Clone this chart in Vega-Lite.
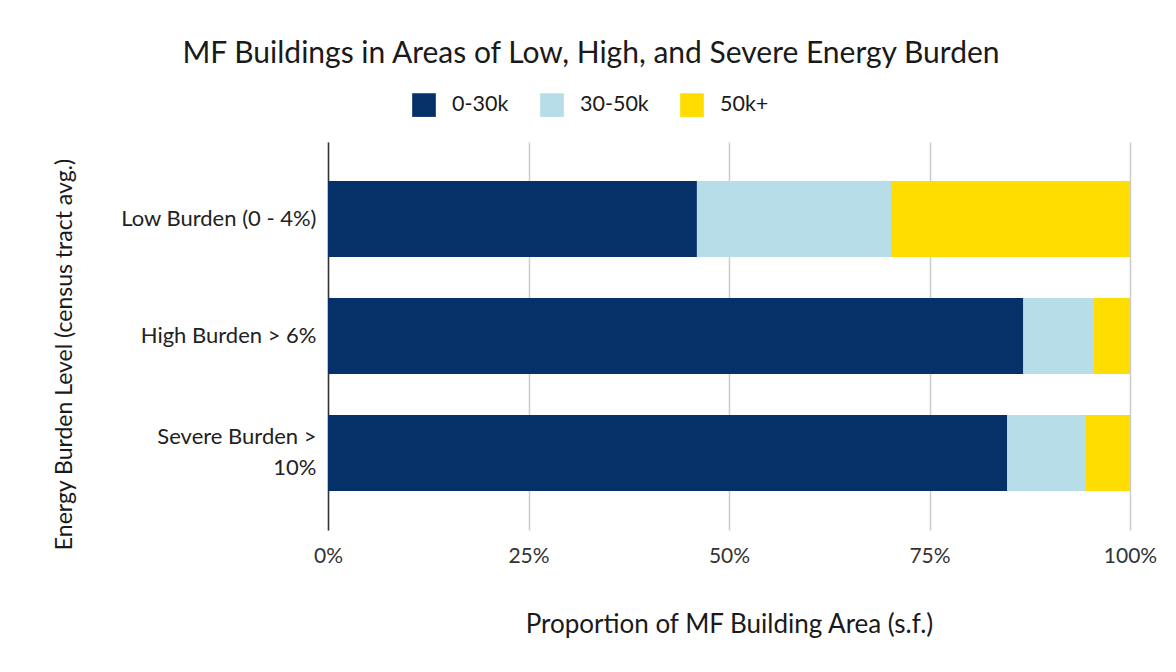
{
  "$schema": "https://vega.github.io/schema/vega-lite/v6.json",
  "width": 802,
  "height": 388,
  "autosize": {"type": "none"},
  "padding": {"left": 328, "top": 142, "right": 46, "bottom": 142},
  "background": "white",
  "title": {
    "text": "MF Buildings in Areas of Low, High, and Severe Energy Burden",
    "font": "Lato",
    "fontSize": 30,
    "fontWeight": "normal",
    "color": "#1a1a1a",
    "anchor": "middle",
    "dx": -138,
    "offset": 24
  },
  "data": {
    "values": [
      {"level": "Low Burden (0 - 4%)", "income": "0-30k", "share": 0.46},
      {"level": "Low Burden (0 - 4%)", "income": "30-50k", "share": 0.242},
      {"level": "Low Burden (0 - 4%)", "income": "50k+", "share": 0.298},
      {"level": "High Burden > 6%", "income": "0-30k", "share": 0.867},
      {"level": "High Burden > 6%", "income": "30-50k", "share": 0.087},
      {"level": "High Burden > 6%", "income": "50k+", "share": 0.046},
      {"level": "Severe Burden > 10%", "income": "0-30k", "share": 0.847},
      {"level": "Severe Burden > 10%", "income": "30-50k", "share": 0.097},
      {"level": "Severe Burden > 10%", "income": "50k+", "share": 0.056}
    ]
  },
  "mark": {"type": "bar"},
  "encoding": {
    "y": {
      "field": "level",
      "type": "nominal",
      "sort": ["Low Burden (0 - 4%)", "High Burden > 6%", "Severe Burden > 10%"],
      "scale": {"paddingInner": 0.35, "paddingOuter": 0.333},
      "axis": {
        "title": "Energy Burden Level (census tract avg.)",
        "titleFont": "Lato",
        "titleFontSize": 23,
        "titleFontWeight": "normal",
        "titleColor": "#1a1a1a",
        "titlePadding": 52,
        "titleY": 212,
        "labelFont": "Lato",
        "labelFontSize": 22,
        "labelColor": "#222",
        "labelPadding": 12,
        "labelLimit": 400,
        "labelExpr": "datum.value == 'Severe Burden > 10%' ? ['Severe Burden >', '10%'] : datum.value",
        "labelLineHeight": 31,
        "labelOffset": {"condition": {"test": "datum.value == 'Severe Burden > 10%'", "value": -16}, "value": 0},
        "ticks": false,
        "domain": true,
        "domainColor": "#333",
        "domainWidth": 1.5
      }
    },
    "x": {
      "field": "share",
      "type": "quantitative",
      "stack": "zero",
      "scale": {"domain": [0, 1], "nice": false},
      "axis": {
        "title": "Proportion of MF Building Area (s.f.)",
        "titleFont": "Lato",
        "titleFontSize": 26,
        "titleFontWeight": "normal",
        "titleColor": "#1a1a1a",
        "titlePadding": 45,
        "format": ".0%",
        "values": [0, 0.25, 0.5, 0.75, 1],
        "labelFont": "Lato",
        "labelFontSize": 21,
        "labelColor": "#333",
        "labelPadding": 15,
        "labelFlush": false,
        "ticks": false,
        "domain": false,
        "grid": true,
        "gridColor": "#cccccc",
        "gridWidth": 1.5
      }
    },
    "color": {
      "field": "income",
      "type": "nominal",
      "scale": {"domain": ["0-30k", "30-50k", "50k+"], "range": ["#053168", "#b7dde8", "#ffdd00"]},
      "legend": {
        "title": null,
        "orient": "none",
        "direction": "horizontal",
        "legendX": 84,
        "legendY": -49,
        "symbolType": "square",
        "symbolSize": 560,
        "symbolStrokeWidth": 0,
        "labelFont": "Lato",
        "labelFontSize": 21.5,
        "labelColor": "#1a1a1a",
        "labelOffset": 16,
        "columnPadding": 31
      }
    },
    "order": {"field": "income", "sort": "ascending"}
  },
  "config": {
    "view": {"stroke": null}
  }
}
